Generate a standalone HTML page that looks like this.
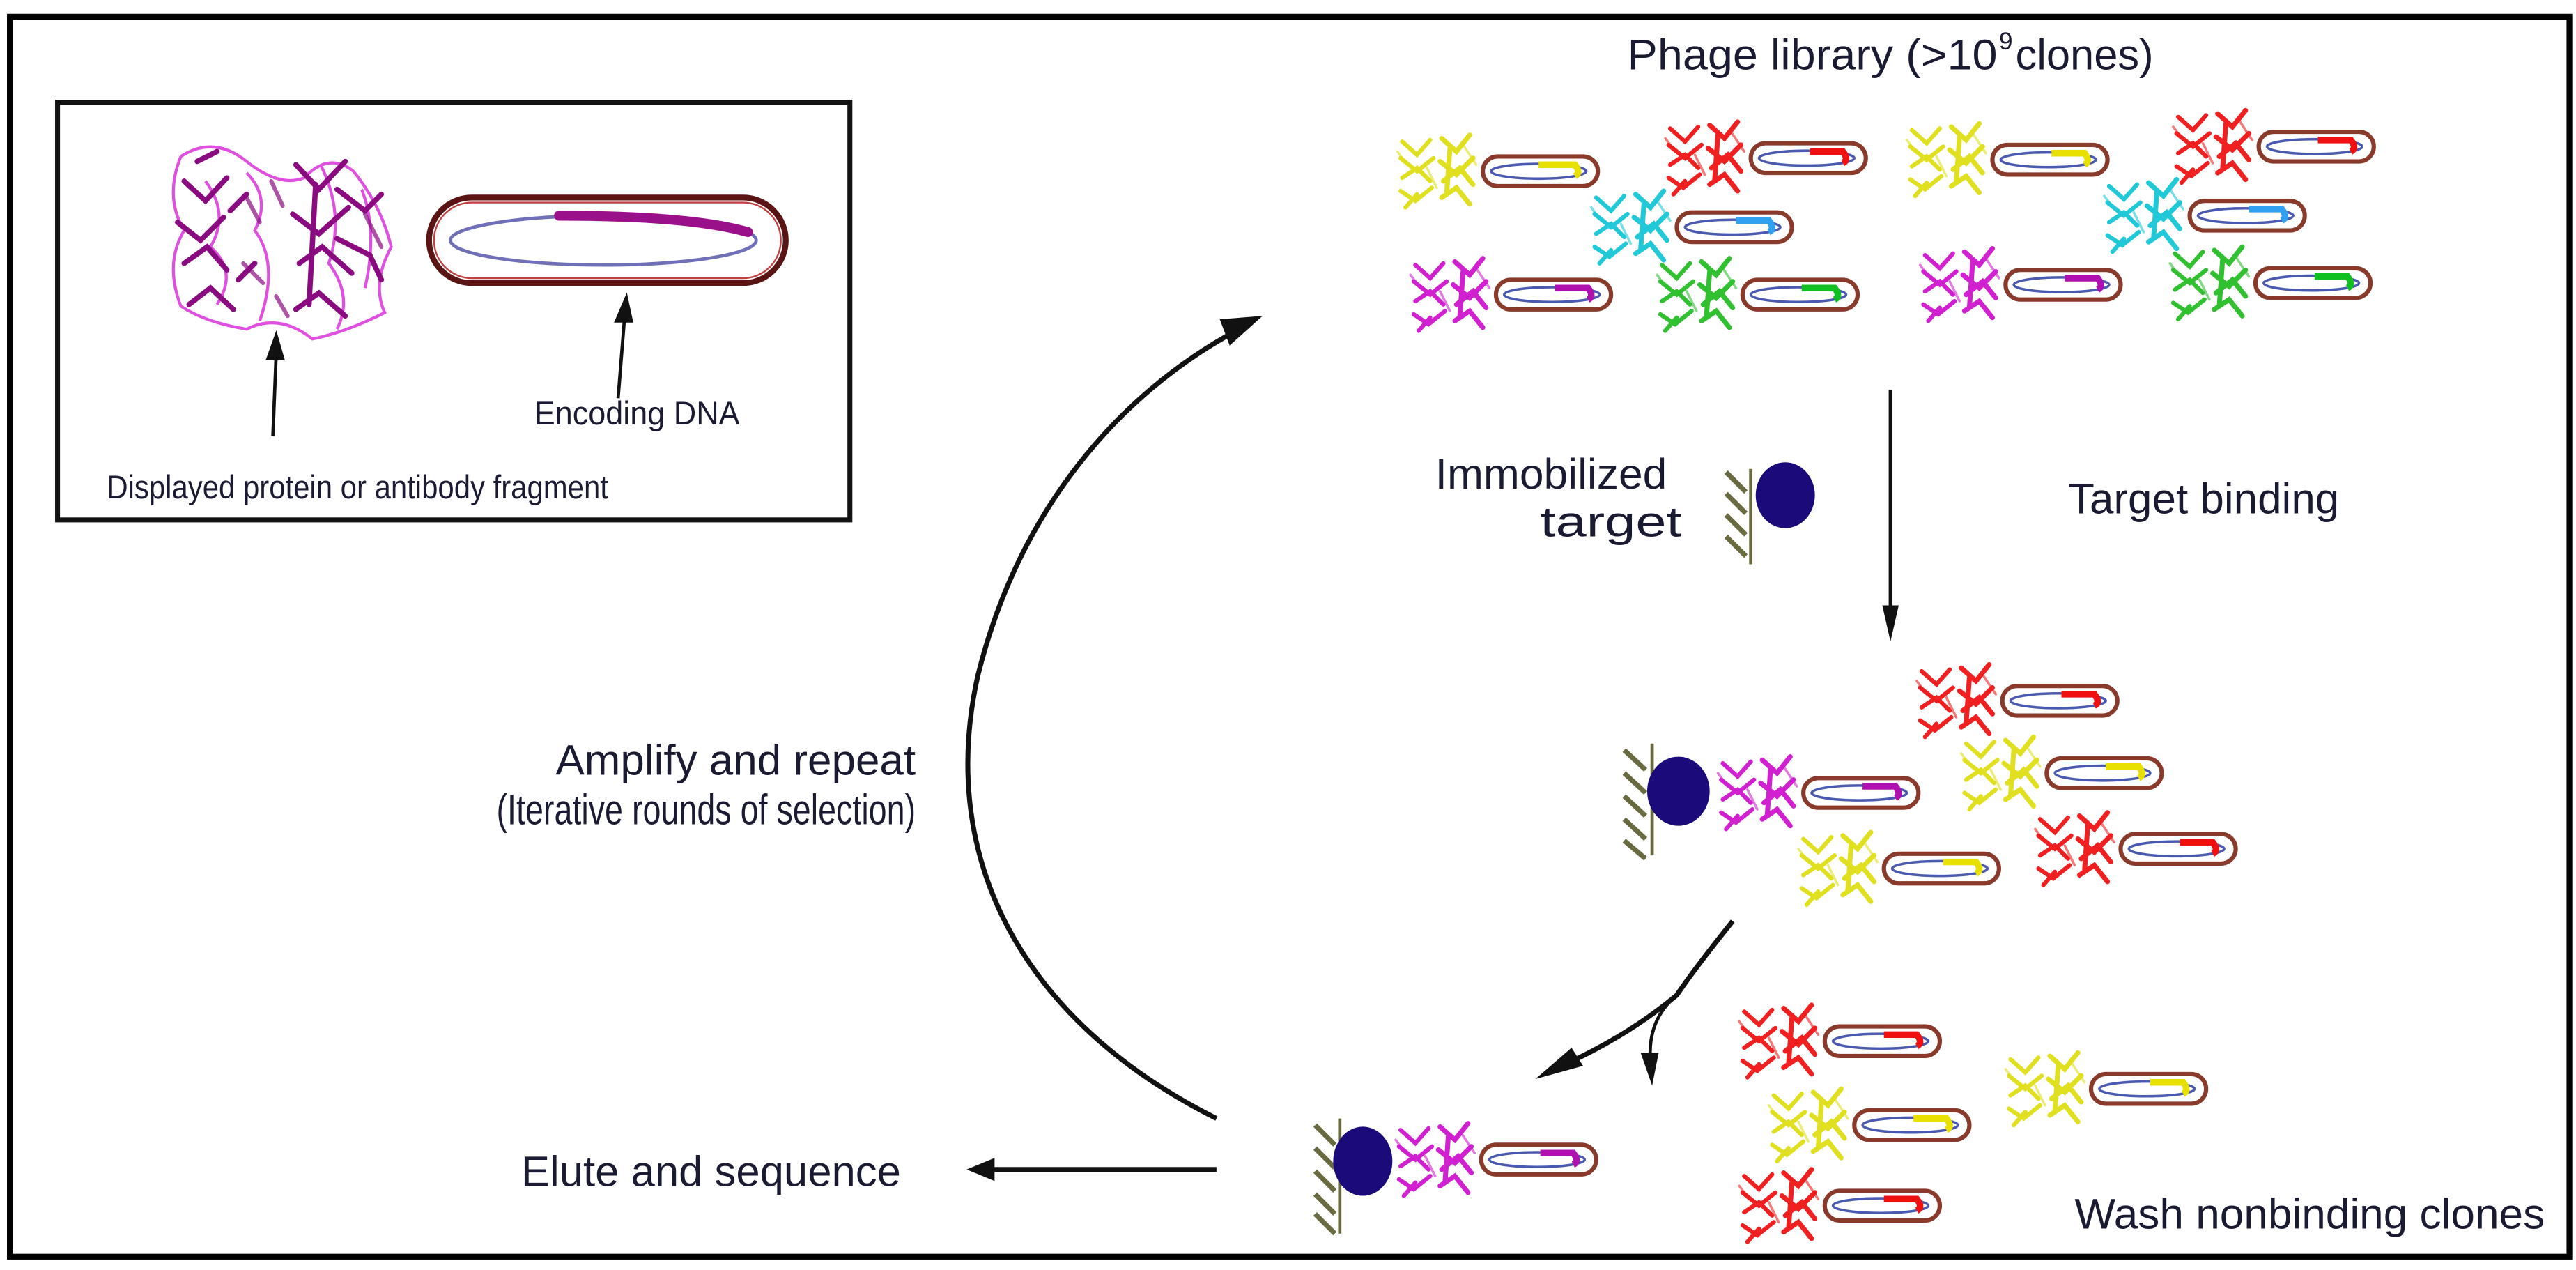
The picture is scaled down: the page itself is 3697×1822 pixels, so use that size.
<!DOCTYPE html>
<html><head><meta charset="utf-8"><style>
html,body{margin:0;padding:0;background:#fff;}
svg{display:block;}
text{font-family:"Liberation Sans",sans-serif;fill:#1a1a33;}
</style></head><body>
<svg width="3697" height="1822" viewBox="0 0 1567 772" xmlns="http://www.w3.org/2000/svg">
<defs>
<g id="prot" fill="none" stroke="currentColor" stroke-width="2.6" stroke-linecap="round">
 <path d="M3,-18 L12,-10 L20,-19 M2,-8 L12,0 L22,-8 M3,4 L12,-2 L20,6 M2,12 L11,18 L21,10 M5,22 L12,14"/>
 <path d="M27,-20 L36,-12 L44,-22 M26,-6 L36,2 L46,-8 M28,6 L38,-2 L46,8 M27,16 L36,10 L44,20 M32,-14 L30,14" stroke-width="3"/>
 <path d="M0,-12 L6,-4 M18,-2 L24,10 M40,-16 L48,-4" stroke-width="1.5" opacity="0.6"/>
</g>
<g id="cap">
 <rect x="52" y="-9" width="70" height="18" rx="9" fill="#fff" stroke="#8a3a2a" stroke-width="2.6"/>
 <ellipse cx="86" cy="0" rx="29" ry="4.5" fill="none" stroke="#4a5ab0" stroke-width="1.5"/>
</g>
</defs>
<rect x="6" y="10" width="1557" height="754" fill="none" stroke="#000" stroke-width="3.5"/>
<rect x="35" y="62" width="482" height="254" fill="none" stroke="#111" stroke-width="3"/>
<!-- inset protein -->
<g fill="none" stroke="#e050e0" stroke-width="1.8">
 <path d="M110,95 Q130,82 150,98 T185,108 Q200,92 215,104 Q232,125 238,150 Q226,172 234,190 Q210,202 190,206 Q170,190 150,200 Q125,196 110,186 Q100,160 112,140 Q100,120 110,95"/>
 <path d="M125,110 Q140,130 128,150 Q145,165 132,185 M195,100 Q210,130 200,160 Q215,180 205,200 M150,105 Q165,120 155,140 Q170,160 158,195 M220,115 Q230,140 222,175"/>
</g>
<g fill="none" stroke="#8a0a80" stroke-width="3.2" stroke-linecap="round">
 <path d="M112,110 L125,122 L138,108 M108,135 L122,146 L136,132 M112,160 L126,150 L138,164 M115,185 L128,175 L142,188 M120,98 L132,92"/>
 <path d="M180,100 L194,115 L210,98 M178,130 L194,142 L212,126 M182,160 L196,150 L214,166 M180,188 L194,178 L210,192 M192,112 L188,185"/>
 <path d="M205,115 L222,128 L232,118 M205,145 L225,155 L232,170 M140,128 L150,118 M145,170 L155,160"/>
 <path d="M150,120 L158,135 M148,160 L160,172 M222,130 L232,150 M165,110 L172,125 M168,180 L175,192" stroke-width="2.5" opacity="0.7"/>
</g>
<rect x="261" y="120" width="217" height="52" rx="26" fill="#fff" stroke="#5a1414" stroke-width="3.5"/>
<rect x="264" y="123" width="211" height="46" rx="23" fill="none" stroke="#c04040" stroke-width="1"/>
<ellipse cx="367" cy="146" rx="93" ry="15" fill="none" stroke="#7070b8" stroke-width="2"/>
<path d="M340,131 Q420,131 455,141" fill="none" stroke="#9a108a" stroke-width="6" stroke-linecap="round"/>
<g stroke="#111" stroke-width="2" fill="#111">
 <line x1="166" y1="265" x2="168" y2="215"/><path d="M163,218 L168,204 L172,218 Z"/>
 <line x1="376" y1="242" x2="380" y2="192"/><path d="M375,195 L381,181 L384,195 Z"/>
</g>
<text x="325" y="258" font-size="20" textLength="125" lengthAdjust="spacingAndGlyphs" fill="#3a1a3a">Encoding DNA</text>
<text x="65" y="303" font-size="20" textLength="305" lengthAdjust="spacingAndGlyphs" fill="#3a1a3a">Displayed protein or antibody fragment</text>
<text x="990" y="42" font-size="26" textLength="225" lengthAdjust="spacingAndGlyphs">Phage library (&gt;10</text>
<text x="1216" y="30" font-size="15">9</text>
<text x="1226" y="42" font-size="26" textLength="84" lengthAdjust="spacingAndGlyphs">clones)</text>
<!-- library phages -->
<g transform="translate(850,104)" style="color:#e0e020"><use href="#prot"/><use href="#cap"/><path d="M86,-4 L108,-4 Q112,1 108,3" stroke="#e8e000" stroke-width="4" fill="none"/></g>
<g transform="translate(1013,96)" style="color:#f02020"><use href="#prot"/><use href="#cap"/><path d="M88,-4 L108,-4 Q112,1 108,3" stroke="#f01010" stroke-width="4" fill="none"/></g>
<g transform="translate(1160,97)" style="color:#e0e020"><use href="#prot"/><use href="#cap"/><path d="M88,-4 L108,-4 Q112,1 108,3" stroke="#e8e000" stroke-width="4" fill="none"/></g>
<g transform="translate(1322,89)" style="color:#f02020"><use href="#prot"/><use href="#cap"/><path d="M88,-4 L108,-4 Q112,1 108,3" stroke="#f01010" stroke-width="4" fill="none"/></g>
<g transform="translate(968,138)" style="color:#20c8d8"><use href="#prot"/><use href="#cap"/><path d="M88,-4 L108,-4 Q112,1 108,3" stroke="#30a0f0" stroke-width="4" fill="none"/></g>
<g transform="translate(1280,131)" style="color:#20c8d8"><use href="#prot"/><use href="#cap"/><path d="M88,-4 L108,-4 Q112,1 108,3" stroke="#30a0f0" stroke-width="4" fill="none"/></g>
<g transform="translate(858,179)" style="color:#d020d0"><use href="#prot"/><use href="#cap"/><path d="M88,-4 L108,-4 Q112,1 108,3" stroke="#b010b0" stroke-width="4" fill="none"/></g>
<g transform="translate(1008,179)" style="color:#30c030"><use href="#prot"/><use href="#cap"/><path d="M88,-4 L108,-4 Q112,1 108,3" stroke="#10c020" stroke-width="4" fill="none"/></g>
<g transform="translate(1168,173)" style="color:#d020d0"><use href="#prot"/><use href="#cap"/><path d="M88,-4 L108,-4 Q112,1 108,3" stroke="#b010b0" stroke-width="4" fill="none"/></g>
<g transform="translate(1320,172)" style="color:#30c030"><use href="#prot"/><use href="#cap"/><path d="M88,-4 L108,-4 Q112,1 108,3" stroke="#10c020" stroke-width="4" fill="none"/></g>
<!-- down arrow -->
<line x1="1150" y1="237" x2="1150" y2="372" stroke="#111" stroke-width="2.2"/>
<path d="M1145,368 L1150,390 L1155,368 Z" fill="#111"/>
<text x="1014" y="297" font-size="26" text-anchor="end" textLength="141" lengthAdjust="spacingAndGlyphs">Immobilized</text>
<text x="1023" y="326" font-size="26" text-anchor="end" textLength="86" lengthAdjust="spacingAndGlyphs">target</text>
<text x="1258" y="312" font-size="26" textLength="165" lengthAdjust="spacingAndGlyphs">Target binding</text>
<!-- target 1 -->
<g stroke="#6a6a40" stroke-width="2">
 <line x1="1065" y1="285" x2="1065" y2="343"/>
 <path d="M1050,287 L1062,299 M1050,300 L1062,312 M1050,313 L1062,325 M1050,326 L1062,338" stroke-width="3"/>
</g>
<ellipse cx="1086" cy="301" rx="18" ry="20" fill="#1a0a7a"/>
<!-- middle group -->
<g stroke="#6a6a40" stroke-width="2">
 <line x1="1005" y1="452" x2="1005" y2="520"/>
 <path d="M988,456 L1001,468 M988,470 L1001,482 M988,484 L1001,496 M988,498 L1001,510 M988,511 L1001,522" stroke-width="3"/>
</g>
<ellipse cx="1021" cy="481" rx="19" ry="21" fill="#1a0a7a"/>
<g transform="translate(1045,482)" style="color:#d020d0"><use href="#prot"/><use href="#cap"/><path d="M88,-4 L108,-4 Q112,1 108,3" stroke="#b010b0" stroke-width="4" fill="none"/></g>
<g transform="translate(1166,426)" style="color:#f02020"><use href="#prot"/><use href="#cap"/><path d="M88,-4 L108,-4 Q112,1 108,3" stroke="#f01010" stroke-width="4" fill="none"/></g>
<g transform="translate(1193,470)" style="color:#e0e020"><use href="#prot"/><use href="#cap"/><path d="M88,-4 L108,-4 Q112,1 108,3" stroke="#e8e000" stroke-width="4" fill="none"/></g>
<g transform="translate(1094,528)" style="color:#e0e020"><use href="#prot"/><use href="#cap"/><path d="M88,-4 L108,-4 Q112,1 108,3" stroke="#e8e000" stroke-width="4" fill="none"/></g>
<g transform="translate(1238,516)" style="color:#f02020"><use href="#prot"/><use href="#cap"/><path d="M88,-4 L108,-4 Q112,1 108,3" stroke="#f01010" stroke-width="4" fill="none"/></g>
<!-- split arrow -->
<path d="M1054,560 Q1030,590 1020,605 Q990,630 950,648" fill="none" stroke="#111" stroke-width="3"/>
<path d="M956,637 L934,656 L963,648 Z" fill="#111"/>
<path d="M1020,605 Q1002,620 1004,645" fill="none" stroke="#111" stroke-width="2"/>
<path d="M998,640 L1005,660 L1009,640 Z" fill="#111"/>
<!-- big curve -->
<path d="M740,680 C620,620 570,520 595,410 C620,310 680,240 752,201" fill="none" stroke="#111" stroke-width="3"/>
<path d="M742,194 L768,192 L748,210 Z" fill="#111"/>
<text x="557" y="471" font-size="26" text-anchor="end" textLength="219" lengthAdjust="spacingAndGlyphs">Amplify and repeat</text>
<text x="557" y="501" font-size="26" text-anchor="end" textLength="255" lengthAdjust="spacingAndGlyphs">(Iterative rounds of selection)</text>
<!-- elute -->
<line x1="740" y1="711" x2="602" y2="711" stroke="#111" stroke-width="3"/>
<path d="M605,704 L588,711 L605,718 Z" fill="#111"/>
<text x="317" y="721" font-size="26" textLength="231" lengthAdjust="spacingAndGlyphs">Elute and sequence</text>
<!-- bottom target -->
<g stroke="#6a6a40" stroke-width="2">
 <line x1="815" y1="680" x2="815" y2="750"/>
 <path d="M800,684 L812,696 M800,698 L812,710 M800,712 L812,724 M800,726 L812,738 M800,738 L812,750" stroke-width="3"/>
</g>
<ellipse cx="829" cy="706" rx="18" ry="21" fill="#1a0a7a"/>
<g transform="translate(849,705)" style="color:#d020d0"><use href="#prot"/><use href="#cap"/><path d="M88,-4 L108,-4 Q112,1 108,3" stroke="#b010b0" stroke-width="4" fill="none"/></g>
<!-- wash -->
<g transform="translate(1058,633)" style="color:#f02020"><use href="#prot"/><use href="#cap"/><path d="M88,-4 L108,-4 Q112,1 108,3" stroke="#f01010" stroke-width="4" fill="none"/></g>
<g transform="translate(1220,662)" style="color:#e0e020"><use href="#prot"/><use href="#cap"/><path d="M88,-4 L108,-4 Q112,1 108,3" stroke="#e8e000" stroke-width="4" fill="none"/></g>
<g transform="translate(1076,684)" style="color:#e0e020"><use href="#prot"/><use href="#cap"/><path d="M88,-4 L108,-4 Q112,1 108,3" stroke="#e8e000" stroke-width="4" fill="none"/></g>
<g transform="translate(1058,733)" style="color:#f02020"><use href="#prot"/><use href="#cap"/><path d="M88,-4 L108,-4 Q112,1 108,3" stroke="#f01010" stroke-width="4" fill="none"/></g>
<text x="1262" y="747" font-size="26" textLength="286" lengthAdjust="spacingAndGlyphs">Wash nonbinding clones</text>
</svg>
</body></html>
